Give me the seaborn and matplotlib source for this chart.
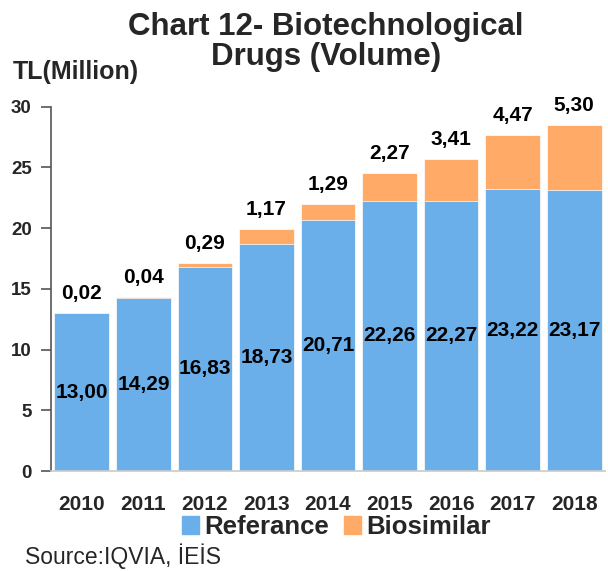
import matplotlib
matplotlib.use("Agg")
import matplotlib.pyplot as plt
import seaborn as sns
import pandas as pd
from matplotlib.patches import Patch

years = ["2010", "2011", "2012", "2013", "2014", "2015", "2016", "2017", "2018"]
referance = [13.00, 14.29, 16.83, 18.73, 20.71, 22.26, 22.27, 23.22, 23.17]
biosimilar = [0.02, 0.04, 0.29, 1.17, 1.29, 2.27, 3.41, 4.47, 5.30]
yticks = [0, 5, 10, 15, 20, 25, 30]

sns.set_theme(style="white")
plt.rcParams['font.family'] = ['Liberation Sans', 'DejaVu Sans']

df = pd.DataFrame({"year": years, "ref": referance, "bio": biosimilar})
df["total"] = df["ref"] + df["bio"]

blue = "#6AAFE9"
orange = "#FFAA66"

fig = plt.figure(figsize=(6.08, 5.71), dpi=100)
ax = fig.add_axes([0.084, 0.175, 0.911, 0.638])

sns.barplot(data=df, x="year", y="total", color=orange, saturation=1, width=0.89,
            edgecolor="white", linewidth=0.5, ax=ax)
sns.barplot(data=df, x="year", y="ref", color=blue, saturation=1, width=0.89,
            edgecolor="white", linewidth=0.5, ax=ax)

ax.set_ylim(0, 30)
ax.set_xlim(-0.5, len(years) - 0.5)
ax.set_yticks(yticks)
ax.set_yticklabels([str(t) for t in yticks], fontsize=13.5, fontweight="bold")
ax.tick_params(axis="y", left=True, length=7, width=1.2, color="#555555", pad=7)
ax.tick_params(axis="x", bottom=False, pad=11)
for lbl in ax.get_xticklabels():
    lbl.set_fontsize(15)
    lbl.set_fontweight("bold")
ax.set_xlabel("")
ax.set_ylabel("")
for s in ["top", "right"]:
    ax.spines[s].set_visible(False)
ax.spines["left"].set_color("#555555")
ax.spines["left"].set_linewidth(1.2)
ax.spines["bottom"].set_color("#cccccc")

fmt = lambda v: f"{v:.2f}".replace(".", ",")
for i in range(len(years)):
    ax.text(i, referance[i] / 2, fmt(referance[i]), ha="center", va="center",
            fontsize=15, fontweight="bold", color="black")
    ax.annotate(fmt(biosimilar[i]), (i, referance[i] + biosimilar[i]),
                xytext=(0, 14), textcoords="offset points", ha="center", va="center",
                fontsize=15, fontweight="bold", color="black", annotation_clip=False)

fig.text(0.536, 0.979, "Chart 12- Biotechnological\nDrugs (Volume)", ha="center", va="top",
         fontsize=22.5, fontweight="bold", linespacing=1.0)
fig.text(0.021, 0.874, "TL(Million)", ha="left", va="center", fontsize=18, fontweight="bold")

handles = [Patch(color=blue, label="Referance"), Patch(color=orange, label="Biosimilar")]
fig.legend(handles=handles, loc="center", bbox_to_anchor=(0.553, 0.077), ncol=2, frameon=False,
           prop={"size": 18.5, "weight": "bold"}, handlelength=0.65, handleheight=0.65,
           handletextpad=0.2, columnspacing=0.6, borderaxespad=0, borderpad=0)

fig.text(0.041, 0.013, "Source:IQVIA, İEİS", ha="left", va="baseline", fontsize=16.5)

fig.savefig("out.png", dpi=100)
